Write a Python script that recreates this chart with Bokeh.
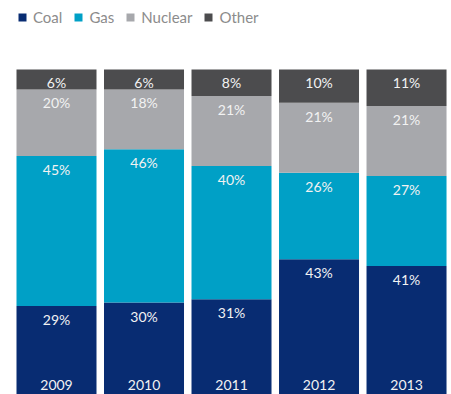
from bokeh.plotting import figure
from bokeh.models import ColumnDataSource, Legend, LegendItem, Range1d
from bokeh.core.properties import value
from bokeh.embed import file_html
from bokeh.resources import INLINE

years = ["2009", "2010", "2011", "2012", "2013"]
coal = [29, 30, 31, 43, 41]
gas = [45, 46, 40, 26, 27]
nuclear = [20, 18, 21, 21, 21]
other = [6, 6, 8, 10, 11]
series = ["Coal", "Gas", "Nuclear", "Other"]
colors = ["#082c72", "#00a0c6", "#a7a8ac", "#4c4c4e"]

xs = list(range(len(years)))
data = dict(x=xs, years=years, Coal=coal, Gas=gas, Nuclear=nuclear, Other=other)
src = ColumnDataSource(data)

p = figure(width=451, height=394, output_backend="svg", toolbar_location=None,
           x_range=Range1d(-0.64, 4.514), y_range=Range1d(2.4, 120.7),
           min_border=0, min_border_left=0, min_border_right=0,
           min_border_top=0, min_border_bottom=0, outline_line_color=None)
p.axis.visible = False
p.grid.visible = False
p.background_fill_color = "white"
p.border_fill_color = "white"

rs = p.vbar_stack(series, x="x", width=80 / 87.5, color=colors, source=src,
                  line_color=None)

font = value("Lato")
# segment labels
lx, ly, lt = [], [], []
vals = [coal, gas, nuclear, other]
for i in range(len(years)):
    base = 0
    for v in vals:
        top = base + v[i]
        lx.append(i)
        ly.append(top)
        lt.append(f"{v[i]}%")
        base = top
p.text(x=lx, y=ly, text=lt, text_align="center", text_baseline="top",
       y_offset=5, text_color="#f2f2f2", text_font=font, text_font_size="14px")
p.text(x=xs, y=[0] * len(xs), text=years, text_align="center",
       text_baseline="bottom", y_offset=-12, text_color="#f2f2f2",
       text_font=font, text_font_size="14px")

legend = Legend(items=[LegendItem(label=s, renderers=[r]) for s, r in zip(series, rs)],
                orientation="horizontal", location=(17, 368))
legend.glyph_width = 10
legend.glyph_height = 10
legend.label_text_font = "Lato"
legend.label_text_font_size = "15px"
legend.label_text_color = "#8c8c8c"
legend.border_line_color = None
legend.background_fill_alpha = 0
legend.padding = 0
legend.margin = 0
legend.spacing = 11
legend.label_standoff = 6
p.add_layout(legend)

open("out.html", "w").write(file_html(p, INLINE))
